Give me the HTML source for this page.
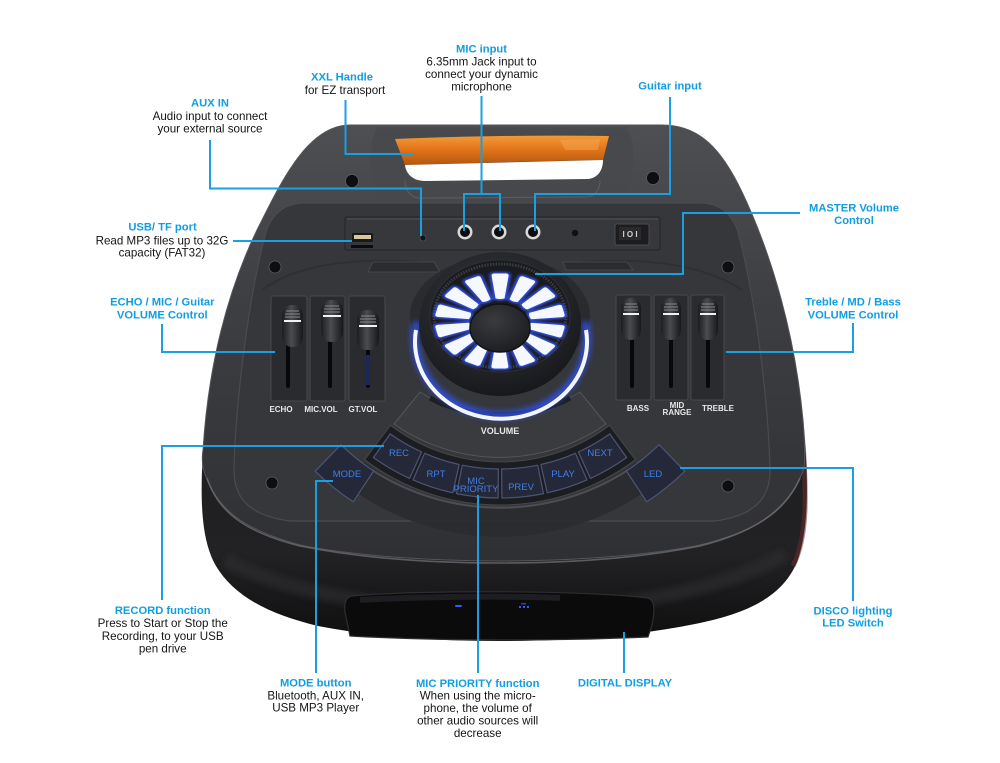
<!DOCTYPE html>
<html><head><meta charset="utf-8"><style>
html,body{margin:0;padding:0;background:#fff;width:1000px;height:763px;overflow:hidden}
svg{display:block}
.t{font-family:"Liberation Sans",sans-serif;font-weight:bold;font-size:11.2px;fill:#0f9de3;text-anchor:middle}
.b{font-family:"Liberation Sans",sans-serif;font-size:11.6px;fill:#141414;text-anchor:middle}
.sl{font-family:"Liberation Sans",sans-serif;font-weight:bold;font-size:8px;fill:#e8e8e8;text-anchor:middle}
.bt{font-family:"Liberation Sans",sans-serif;font-size:9.5px;fill:#3f7fe8;text-anchor:middle}
.ln{fill:none;stroke:#1a9fe0;stroke-width:2}
</style></head><body>
<svg width="1000" height="763" viewBox="0 0 1000 763" xmlns="http://www.w3.org/2000/svg">
<defs>
<linearGradient id="gTop" gradientUnits="userSpaceOnUse" x1="0" y1="125" x2="0" y2="560">
<stop offset="0" stop-color="#4e4f53"/><stop offset="0.4" stop-color="#3e3f42"/><stop offset="1" stop-color="#2f3033"/></linearGradient>
<linearGradient id="gFront" gradientUnits="userSpaceOnUse" x1="0" y1="450" x2="0" y2="641">
<stop offset="0" stop-color="#1e1e20"/><stop offset="0.55" stop-color="#222224"/><stop offset="1" stop-color="#0e0e0f"/></linearGradient>
<linearGradient id="gOr" x1="0" y1="0" x2="0" y2="1">
<stop offset="0" stop-color="#f39a38"/><stop offset="0.45" stop-color="#e3761a"/><stop offset="1" stop-color="#b2560e"/></linearGradient>
<linearGradient id="gCap" x1="0" y1="0" x2="1" y2="0">
<stop offset="0" stop-color="#1c1d20"/><stop offset="0.45" stop-color="#4b4c50"/><stop offset="1" stop-color="#17181a"/></linearGradient>
<radialGradient id="gKnob" cx="0.45" cy="0.35" r="0.7">
<stop offset="0" stop-color="#33363b"/><stop offset="0.7" stop-color="#202226"/><stop offset="1" stop-color="#15161a"/></radialGradient>
<radialGradient id="gCc" cx="0.4" cy="0.35" r="0.7">
<stop offset="0" stop-color="#3a3b3f"/><stop offset="1" stop-color="#1c1d20"/></radialGradient>
<filter id="blur3" x="-20%" y="-20%" width="140%" height="140%"><feGaussianBlur stdDeviation="3"/></filter>
<filter id="blur2" x="-20%" y="-20%" width="140%" height="140%"><feGaussianBlur stdDeviation="1.6"/></filter>
<path id="slot" d="M31,-4.5 L62,-8.5 Q65,-8.5 65,-5.5 L65,5.5 Q65,8.5 62,8.5 L31,4.5 Q29,0 31,-4.5 Z"/>
</defs>

<!-- silhouette / front -->
<path d="M350,125 L662,125 C700,125 722,150 742,192 C772,255 795,335 803,420 C809,480 809,530 797,562 C782,598 745,614 695,624 C630,637 565,641 500,641 C430,641 370,636 318,626 C268,614 234,596 216,566 C201,540 200,500 203,450 C208,370 226,290 262,220 C284,176 310,125 350,125 Z" fill="url(#gFront)"/>
<path d="M793,370 C801,410 806,460 805,510 C804,535 800,552 793,566" fill="none" stroke="#6a2c2c" stroke-width="5" opacity="0.55"/>
<path d="M225,560 C300,600 420,610 500,610 C590,610 700,600 785,555" fill="none" stroke="#2e2e31" stroke-width="14" opacity="0.6" filter="url(#blur3)"/>

<!-- top face -->
<path d="M350,125 L662,125 C700,125 722,150 742,192 C772,255 795,335 803,420 C805,445 805,460 804,468 C790,510 760,530 700,545 C640,557 560,561 500,561 C440,561 360,557 300,545 C245,530 215,510 203,468 C202,460 202,455 203,450 C208,370 226,290 262,220 C284,176 310,125 350,125 Z" fill="url(#gTop)" stroke="#55565a" stroke-width="1"/>
<path d="M207,478 C218,512 245,532 300,546 C370,560 440,563 500,563 C570,563 640,558 700,546 C752,533 785,512 800,478" fill="none" stroke="#6b6c70" stroke-width="1.6" opacity="0.8"/>

<!-- inner panel -->
<path d="M305,203 L700,203 C720,203 732,214 738,232 C756,300 768,400 770,468 C771,500 752,516 715,521 L290,521 C252,516 233,500 234,468 C236,400 248,300 266,232 C272,214 284,203 305,203 Z" fill="#36373a" stroke="#4a4b4f" stroke-width="1.2"/>
<path d="M262,290 C300,262 360,258 420,262 M580,262 C640,258 700,262 742,290" fill="none" stroke="#2c2d30" stroke-width="2" opacity="0.7"/>

<!-- handle area -->
<path d="M378,127 L626,127 C636,140 636,170 626,196 C600,199 410,199 380,196 C368,170 368,140 378,127 Z" fill="#47484c" opacity="0.8"/>
<path d="M395,139 C470,136 540,135 609,136 L603,160 C540,161 470,163 405,165 Z" fill="url(#gOr)"/>
<path d="M560,140 L600,139 L598,150 L565,150 Z" fill="#f5a550" opacity="0.5"/>
<path d="M405,165 L603,160 C603,170 598,178 588,179 L425,181 C413,181 406,174 405,165 Z" fill="#ffffff"/>
<path d="M405,181 C405,192 412,198 420,198 L585,197 C595,197 600,190 600,180" fill="none" stroke="#5a5b5f" stroke-width="1.2"/>

<!-- screws -->
<g fill="#0e0e10" stroke="#5c5d61" stroke-width="0.8">
<circle cx="352" cy="181" r="6.5"/><circle cx="653" cy="178" r="6.5"/>
<circle cx="275" cy="267" r="6"/><circle cx="728" cy="267" r="6"/>
<circle cx="272" cy="483" r="6"/><circle cx="728" cy="486" r="6"/>
</g>

<!-- input strip -->
<rect x="345" y="217" width="315" height="33" rx="2" fill="#37383b" stroke="#27282a" stroke-width="1.2"/>
<line x1="347" y1="219" x2="658" y2="219" stroke="#515256" stroke-width="1"/>
<rect x="352" y="233" width="21" height="9" rx="1" fill="#1a1a1a"/>
<rect x="354" y="235" width="17" height="4" fill="#d8c89a"/>
<rect x="351" y="245" width="22" height="3" fill="#0c0c0c"/>
<circle cx="423" cy="238" r="3" fill="#141416" stroke="#5a5a5e" stroke-width="0.6"/>
<g>
<circle cx="465" cy="232" r="7.5" fill="#d9d9d9"/><circle cx="465" cy="232" r="5" fill="#0c0c0c"/>
<circle cx="499" cy="232" r="7.5" fill="#d9d9d9"/><circle cx="499" cy="232" r="5" fill="#0c0c0c"/>
<circle cx="533" cy="232" r="7.5" fill="#d9d9d9"/><circle cx="533" cy="232" r="5" fill="#0c0c0c"/>
</g>
<circle cx="575" cy="233" r="3.2" fill="#101012"/>
<rect x="615" y="224" width="34" height="21" rx="1.5" fill="#1d1d1f" stroke="#4a4b4f" stroke-width="1"/>
<rect x="619" y="227" width="22" height="13" fill="#2a2a2c"/>
<text x="630" y="237" font-family="Liberation Sans,sans-serif" font-size="8" font-weight="bold" fill="#d0d0d0" text-anchor="middle">I O I</text>
<path d="M373,262 L434,262 L440,272 L368,272 Z" fill="#2b2c2f" stroke="#4b4c50" stroke-width="0.8"/>
<path d="M563,262 L627,262 L633,270 L566,270 Z" fill="#2b2c2f" stroke="#4b4c50" stroke-width="0.8"/>

<!-- sliders -->
<g fill="#2a2b2e" stroke="#47484c" stroke-width="1">
<rect x="271" y="296" width="36" height="105" rx="2"/>
<rect x="310" y="296" width="35" height="105" rx="2"/>
<rect x="349" y="296" width="36" height="105" rx="2"/>
<rect x="616" y="295" width="35" height="105" rx="2"/>
<rect x="654" y="295" width="34" height="105" rx="2"/>
<rect x="691" y="295" width="33" height="105" rx="2"/>
</g>
<g fill="#08080a">
<rect x="286" y="335" width="4" height="53" rx="2"/>
<rect x="328" y="335" width="4" height="53" rx="2"/>
<rect x="366" y="340" width="4" height="48" rx="2"/>
<rect x="630" y="332" width="4" height="56" rx="2"/>
<rect x="669" y="332" width="4" height="56" rx="2"/>
<rect x="706" y="332" width="4" height="56" rx="2"/>
</g>
<rect x="366" y="355" width="4" height="30" fill="#27357a" opacity="0.7"/>
<g>
<g transform="translate(282,305)"><rect width="21" height="42" rx="10" fill="url(#gCap)"/><path d="M4,6 H17 M3,9 H18 M3,12 H18" stroke="#8a8b90" stroke-width="1"/><rect x="2" y="15" width="17" height="2" fill="#f2f2f2"/></g>
<g transform="translate(321,300)"><rect width="22" height="42" rx="10" fill="url(#gCap)"/><path d="M4,6 H18 M3,9 H19 M3,12 H19" stroke="#8a8b90" stroke-width="1"/><rect x="2" y="15" width="18" height="2" fill="#f2f2f2"/></g>
<g transform="translate(357,310)"><rect width="22" height="40" rx="10" fill="url(#gCap)"/><path d="M4,6 H18 M3,9 H19 M3,12 H19" stroke="#8a8b90" stroke-width="1"/><rect x="2" y="15" width="18" height="2" fill="#f2f2f2"/></g>
<g transform="translate(621,298)"><rect width="20" height="42" rx="10" fill="url(#gCap)"/><path d="M4,6 H16 M3,9 H17 M3,12 H17" stroke="#8a8b90" stroke-width="1"/><rect x="2" y="15" width="16" height="2" fill="#f2f2f2"/></g>
<g transform="translate(661,298)"><rect width="20" height="42" rx="10" fill="url(#gCap)"/><path d="M4,6 H16 M3,9 H17 M3,12 H17" stroke="#8a8b90" stroke-width="1"/><rect x="2" y="15" width="16" height="2" fill="#f2f2f2"/></g>
<g transform="translate(698,298)"><rect width="20" height="42" rx="10" fill="url(#gCap)"/><path d="M4,6 H16 M3,9 H17 M3,12 H17" stroke="#8a8b90" stroke-width="1"/><rect x="2" y="15" width="16" height="2" fill="#f2f2f2"/></g>
</g>
<text class="sl" x="281" y="412">ECHO</text>
<text class="sl" x="321" y="412">MIC.VOL</text>
<text class="sl" x="363" y="412">GT.VOL</text>
<text class="sl" x="638" y="411">BASS</text>
<text class="sl" x="677" y="408">MID</text>
<text class="sl" x="677" y="415">RANGE</text>
<text class="sl" x="718" y="411">TREBLE</text>

<!-- volume arch & tray -->
<path d="M420,392 A150,150 0 0,0 580,392 L606,424 A185,185 0 0,1 394,424 Z" fill="#3a3b3f" stroke="#55565a" stroke-width="1"/>
<path d="M430,398 C470,420 530,420 570,398" fill="none" stroke="#1e1f22" stroke-width="5"/>
<text x="500" y="434" font-family="Liberation Sans,sans-serif" font-size="9" font-weight="bold" fill="#e6e6e6" text-anchor="middle">VOLUME</text>
<path d="M390.5,425.3 A182,182 0 0,0 609.5,425.3 L635.4,459.7 A225,225 0 0,1 364.6,459.7 Z" fill="#1c1d21" stroke="#45464b" stroke-width="1"/>
<path d="M364,462 A228,228 0 0,0 636,462 L650,488 A255,255 0 0,1 350,488 Z" fill="#2a2b2f" opacity="0.9"/>
<path d="M372,470 A236,236 0 0,0 628,470" fill="none" stroke="#4d4e53" stroke-width="2"/>

<!-- buttons -->
<g fill="#242838" stroke="#4c5473" stroke-width="1.2" stroke-linejoin="round">
<path d="M390.2,433.9 A189,189 0 0,0 421.6,452.0 L409.6,478.4 A218,218 0 0,1 373.4,457.5 Z"/>
<path d="M424.6,453.3 A189,189 0 0,0 459.1,464.5 L452.8,492.8 A218,218 0 0,1 413.1,479.9 Z"/>
<path d="M462.3,465.2 A189,189 0 0,0 498.35,469 L498.1,498 A218,218 0 0,1 456.5,493.6 Z"/>
<path d="M501.65,469 A189,189 0 0,0 537.7,465.2 L543.5,493.6 A218,218 0 0,1 501.9,498 Z"/>
<path d="M540.9,464.5 A189,189 0 0,0 575.4,453.3 L586.9,479.9 A218,218 0 0,1 547.2,492.8 Z"/>
<path d="M578.4,452.0 A189,189 0 0,0 609.8,433.9 L626.6,457.5 A218,218 0 0,1 590.4,478.4 Z"/>
<path d="M340.9,444.7 A229,229 0 0,0 373.6,471.0 L353.2,501.8 A266,266 0 0,1 315.2,471.3 Z"/>
<path d="M626.4,471.0 A229,229 0 0,0 659.1,444.7 L684.8,471.3 A266,266 0 0,1 646.8,501.8 Z"/>
</g>
<text class="bt" x="399" y="456">REC</text>
<text class="bt" x="436" y="477">RPT</text>
<text class="bt" x="476" y="484" font-size="7.5">MIC</text>
<text class="bt" x="476" y="492" font-size="7.5">PRIORITY</text>
<text class="bt" x="521" y="490">PREV</text>
<text class="bt" x="563" y="477">PLAY</text>
<text class="bt" x="600" y="456">NEXT</text>
<text class="bt" x="347" y="477">MODE</text>
<text class="bt" x="653" y="477">LED</text>

<!-- knob -->
<ellipse cx="500" cy="316" rx="90" ry="60" fill="#2a2b2e"/>
<path d="M417,322 A86,77 0 1,0 585,322" fill="none" stroke="#2e55ff" stroke-width="8" opacity="0.8" filter="url(#blur3)"/>
<path d="M416,330 A86,77 0 1,0 586,330" fill="none" stroke="#f4f6ff" stroke-width="4"/>
<ellipse cx="500" cy="324" rx="81" ry="72" fill="url(#gKnob)"/>
<ellipse cx="500" cy="316" rx="70" ry="56" fill="#1a1b1e" stroke="#2e3034" stroke-width="1"/>
<ellipse cx="500" cy="316" rx="66" ry="52" fill="none" stroke="#3c3e43" stroke-width="3" stroke-dasharray="1.4 1.4"/>
<g transform="translate(500,321) scale(1,0.73)">
<g fill="none" stroke="#3558ff" stroke-width="4" filter="url(#blur2)">
<use href="#slot" transform="rotate(13)"/><use href="#slot" transform="rotate(38.7)"/><use href="#slot" transform="rotate(64.4)"/><use href="#slot" transform="rotate(90.1)"/><use href="#slot" transform="rotate(115.9)"/><use href="#slot" transform="rotate(141.6)"/><use href="#slot" transform="rotate(167.3)"/><use href="#slot" transform="rotate(193)"/><use href="#slot" transform="rotate(218.7)"/><use href="#slot" transform="rotate(244.4)"/><use href="#slot" transform="rotate(270.1)"/><use href="#slot" transform="rotate(295.9)"/><use href="#slot" transform="rotate(321.6)"/><use href="#slot" transform="rotate(347.3)"/>
</g>
<g fill="#f6f8ff">
<use href="#slot" transform="rotate(13)"/><use href="#slot" transform="rotate(38.7)"/><use href="#slot" transform="rotate(64.4)"/><use href="#slot" transform="rotate(90.1)"/><use href="#slot" transform="rotate(115.9)"/><use href="#slot" transform="rotate(141.6)"/><use href="#slot" transform="rotate(167.3)"/><use href="#slot" transform="rotate(193)"/><use href="#slot" transform="rotate(218.7)"/><use href="#slot" transform="rotate(244.4)"/><use href="#slot" transform="rotate(270.1)"/><use href="#slot" transform="rotate(295.9)"/><use href="#slot" transform="rotate(321.6)"/><use href="#slot" transform="rotate(347.3)"/>
</g>
</g>
<ellipse cx="500" cy="328" rx="30" ry="24" fill="url(#gCc)" stroke="#111214" stroke-width="1.5"/>

<!-- display window -->
<path d="M352,596 C420,590 580,590 648,598 C655,600 655,610 652,625 L648,637 C560,641 440,641 350,636 L345,612 C344,602 346,597 352,596 Z" fill="#0b0b0c" stroke="#2e2e31" stroke-width="1.2"/>
<path d="M360,600 C430,596 520,596 560,598" fill="none" stroke="#1d1d22" stroke-width="6"/>
<rect x="455" y="605" width="7" height="2" rx="1" fill="#2f5bff"/>
<rect x="521" y="603" width="5" height="1.5" fill="#2f5bff" opacity="0.7"/>
<rect x="519" y="606" width="2" height="2" fill="#2f5bff"/><rect x="523" y="606" width="2" height="2" fill="#2f5bff"/><rect x="527" y="606" width="2" height="2" fill="#2f5bff"/>

<!-- connectors -->
<path class="ln" d="M210,140 V188.5 H421 V236"/>
<path class="ln" d="M345.5,100 V154 H413"/>
<path class="ln" d="M481.5,96 V194 M463,194 H501 M464,193 V231 M500,193 V231"/>
<path class="ln" d="M670,97 V194 H534 M535,193 V231"/>
<path class="ln" d="M233,241 H352"/>
<path class="ln" d="M800,213 H683 V274 H535"/>
<path class="ln" d="M853,323 V352 H726"/>
<path class="ln" d="M162,324 V352 H275"/>
<path class="ln" d="M162,600 V446 H384"/>
<path class="ln" d="M316,673 V481 H333"/>
<path class="ln" d="M478,673 V495"/>
<path class="ln" d="M680,468 H853 V601"/>
<path class="ln" d="M624,632 V673"/>

<!-- labels -->
<text class="t" x="481.5" y="52.3">MIC input</text>
<text class="b" x="481.5" y="65.7">6.35mm Jack input to</text>
<text class="b" x="481.5" y="78">connect your dynamic</text>
<text class="b" x="481.5" y="90.7">microphone</text>

<text class="t" x="342" y="80.7">XXL Handle</text>
<text class="b" x="345" y="94">for EZ transport</text>

<text class="t" x="210" y="106.3">AUX IN</text>
<text class="b" x="210" y="120">Audio input to connect</text>
<text class="b" x="210" y="132.7">your external source</text>

<text class="t" x="670" y="89.7">Guitar input</text>

<text class="t" x="162.5" y="230.7">USB/ TF port</text>
<text class="b" x="162" y="244.3">Read MP3 files up to 32G</text>
<text class="b" x="162" y="256.7">capacity (FAT32)</text>

<text class="t" x="854" y="211.3">MASTER Volume</text>
<text class="t" x="854" y="224">Control</text>

<text class="t" x="162.3" y="305.3">ECHO / MIC / Guitar</text>
<text class="t" x="162.3" y="318.3">VOLUME Control</text>

<text class="t" x="853" y="305.7">Treble / MD / Bass</text>
<text class="t" x="853" y="318.3">VOLUME Control</text>

<text class="t" x="162.7" y="614">RECORD function</text>
<text class="b" x="162.7" y="627">Press to Start or Stop the</text>
<text class="b" x="162.7" y="640">Recording, to your USB</text>
<text class="b" x="162.7" y="652.5">pen drive</text>

<text class="t" x="853" y="614.7">DISCO lighting</text>
<text class="t" x="853" y="626.7">LED Switch</text>

<text class="t" x="315.7" y="686.7">MODE button</text>
<text class="b" x="315.7" y="699.7">Bluetooth, AUX IN,</text>
<text class="b" x="315.7" y="711.7">USB MP3 Player</text>

<text class="t" x="477.7" y="687">MIC PRIORITY function</text>
<text class="b" x="477.7" y="699.7">When using the micro-</text>
<text class="b" x="477.7" y="712">phone, the volume of</text>
<text class="b" x="477.7" y="724.7">other audio sources will</text>
<text class="b" x="477.7" y="737">decrease</text>

<text class="t" x="625" y="686.3">DIGITAL DISPLAY</text>
</svg>
</body></html>
